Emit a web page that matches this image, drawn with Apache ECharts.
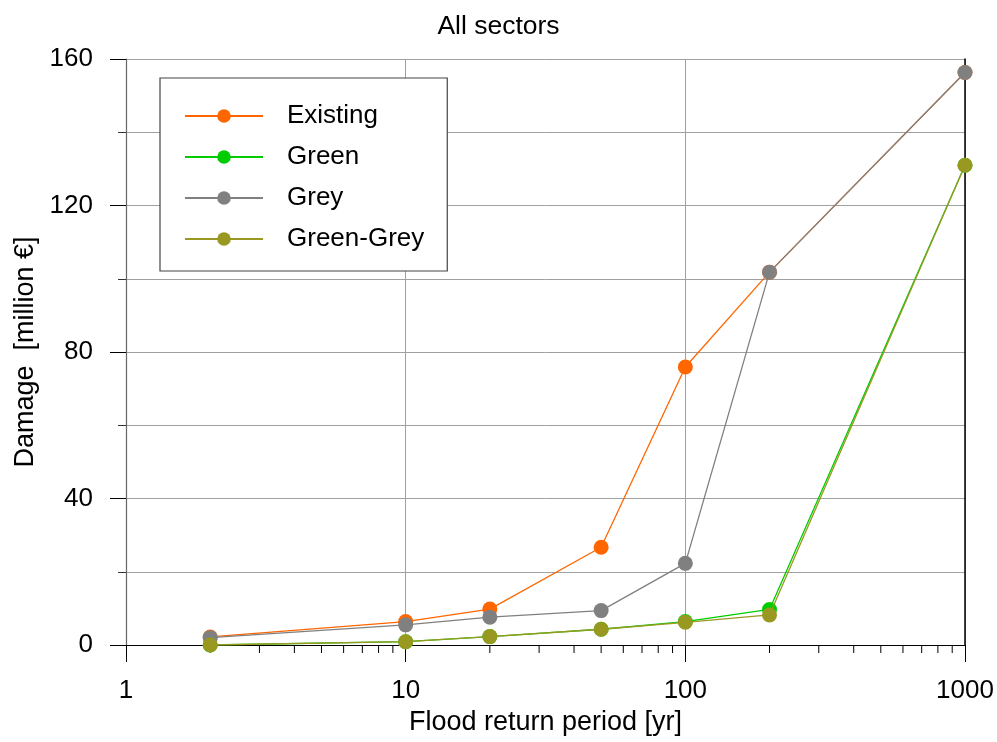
<!DOCTYPE html>
<html>
<head>
<meta charset="utf-8">
<script src="https://cdn.jsdelivr.net/npm/echarts@6/dist/echarts.min.js"></script>
<style>
  html, body { margin: 0; padding: 0; background: #fff; }
  #chart { width: 997px; height: 742px; }
</style>
</head>
<body>
<div id="chart"></div>
<script>
// Flood return periods (years) and damage per scenario (million €)
const returnPeriods = [2, 10, 20, 50, 100, 200, 1000];
const existing  = [2.2, 6.4, 9.8, 26.7, 75.9, 101.8, 156.3];
const green     = [0, 0.9, 2.3, 4.3, 6.4, 9.7, 131.0];
const grey      = [2.0, 5.5, 7.6, 9.4, 22.3, 101.8, 156.3];
const greenGrey = [0, 0.9, 2.3, 4.3, 6.2, 8.2, 131.0];
const seriesNames = ['Existing', 'Green', 'Grey', 'Green-Grey'];
const seriesColors = ['#ff6600', '#00cc00', '#808080', '#999922'];
const seriesValues = [existing, green, grey, greenGrey];
// Minor ticks of the logarithmic x axis
const minorTickValues = [2, 3, 4, 5, 6, 7, 8, 9, 20, 30, 40, 50, 60, 70, 80, 90,
                         200, 300, 400, 500, 600, 700, 800, 900];

const FONT = 'Liberation Sans, Arial, sans-serif';
const chart = echarts.init(document.getElementById('chart'));

const lineSeries = seriesNames.map((name, i) => ({
  name: name,
  type: 'line',
  data: returnPeriods.map((p, j) => [p, seriesValues[i][j]]),
  symbol: 'circle',
  symbolSize: 15,
  showSymbol: true,
  lineStyle: { color: seriesColors[i], width: 1.3 },
  itemStyle: { color: seriesColors[i] },
  emphasis: { disabled: true },
  z: 3 + i
}));

const minorTicks = {
  type: 'custom',
  silent: true,
  clip: false,
  data: minorTickValues.map(v => [v, 0]),
  renderItem: function (params, api) {
    const p = api.coord([api.value(0), 0]);
    return {
      type: 'line',
      shape: { x1: p[0], y1: p[1], x2: p[0], y2: p[1] + 8 },
      style: { stroke: '#000', lineWidth: 1 }
    };
  },
  z: 1
};

chart.setOption({
  animation: false,
  backgroundColor: '#fff',
  title: {
    text: 'All sectors',
    left: 'center',
    top: 8,
    textStyle: { fontFamily: FONT, fontSize: 26.5, fontWeight: 'normal', color: '#000' }
  },
  grid: { left: 126, right: 32, top: 59, bottom: 97 },
  legend: {
    data: seriesNames,
    orient: 'vertical',
    left: 160,
    top: 78,
    padding: [25, 23, 19, 24],
    itemWidth: 78,
    itemHeight: 17,
    itemGap: 15,
    backgroundColor: '#fff',
    borderColor: '#444',
    borderWidth: 1.2,
    borderRadius: 0,
    textStyle: { fontFamily: FONT, fontSize: 26, color: '#000', padding: [0, 0, 0, 19] }
  },
  xAxis: [{
    type: 'log',
    logBase: 10,
    min: 1,
    max: 1000,
    name: 'Flood return period [yr]',
    nameLocation: 'middle',
    nameGap: 64,
    nameTextStyle: { fontFamily: FONT, fontSize: 27, color: '#000' },
    axisLine: { show: true, onZero: false, lineStyle: { color: '#000', width: 1.2 } },
    axisTick: { show: true, length: 17, lineStyle: { color: '#000' } },
    axisLabel: {
      fontFamily: FONT, fontSize: 26, color: '#000', margin: 33,
      formatter: v => String(Math.round(v))
    },
    splitLine: { show: true, lineStyle: { color: '#a0a0a0', width: 1 } }
  }],
  yAxis: [{
    type: 'value',
    min: 0,
    max: 160,
    interval: 40,
    name: 'Damage  [million €]',
    nameLocation: 'middle',
    nameGap: 81,
    nameTextStyle: { fontFamily: FONT, fontSize: 27, color: '#000' },
    axisLine: { show: true, lineStyle: { color: '#666', width: 1.2 } },
    axisTick: { show: true, length: 16, lineStyle: { color: '#000' } },
    minorTick: { show: true, splitNumber: 2, length: 8, lineStyle: { color: '#333' } },
    minorSplitLine: { show: true, lineStyle: { color: '#a0a0a0', width: 1 } },
    axisLabel: { fontFamily: FONT, fontSize: 26, color: '#000', margin: 33 },
    splitLine: { show: true, lineStyle: { color: '#a0a0a0', width: 1 } }
  }, {
    type: 'value',
    min: 0,
    max: 160,
    position: 'right',
    axisLine: { show: true, lineStyle: { color: '#000', width: 1.5 } },
    axisTick: { show: false },
    axisLabel: { show: false },
    splitLine: { show: false }
  }],
  series: lineSeries.concat([minorTicks])
});
</script>
</body>
</html>
